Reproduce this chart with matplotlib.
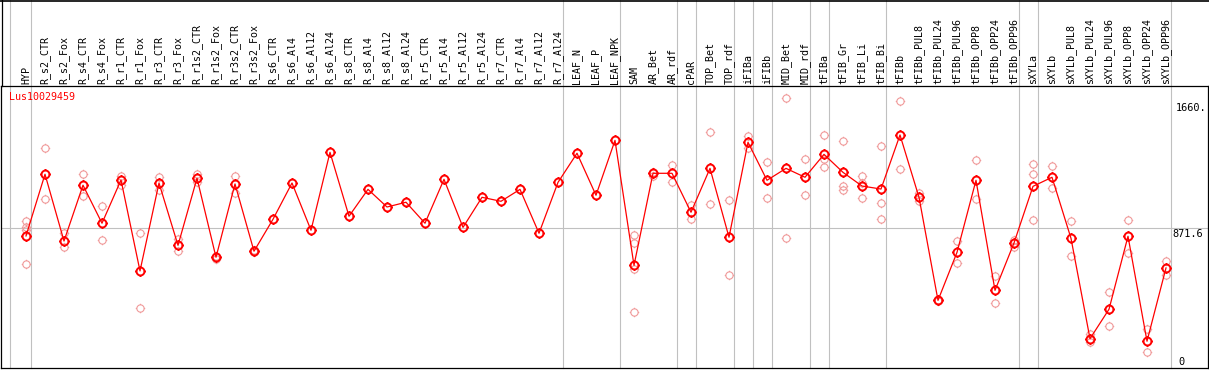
import matplotlib.pyplot as plt
import matplotlib.transforms as mtransforms
from matplotlib.path import Path
from matplotlib.lines import Line2D
import numpy as np

# sample names (x axis)
labels = ['HYP', 'R_s2_CTR', 'R_s2_Fox', 'R_s4_CTR', 'R_s4_Fox', 'R_r1_CTR', 'R_r1_Fox',
          'R_r3_CTR', 'R_r3_Fox', 'R_r1s2_CTR', 'R_r1s2_Fox', 'R_r3s2_CTR', 'R_r3s2_Fox',
          'R_s6_CTR', 'R_s6_Al4', 'R_s6_Al12', 'R_s6_Al24', 'R_s8_CTR', 'R_s8_Al4',
          'R_s8_Al12', 'R_s8_Al24', 'R_r5_CTR', 'R_r5_Al4', 'R_r5_Al12', 'R_r5_Al24',
          'R_r7_CTR', 'R_r7_Al4', 'R_r7_Al12', 'R_r7_Al24', 'LEAF_N', 'LEAF_P', 'LEAF_NPK',
          'SAM', 'AR_Bet', 'AR_rdf', 'cPAR', 'TOP_Bet', 'TOP_rdf', 'iFIBa', 'iFIBb',
          'MID_Bet', 'MID_rdf', 'tFIBa', 'tFIB_Gr', 'tFIB_Li', 'tFIB_Bi', 'tFIBb',
          'tFIBb_PUL8', 'tFIBb_PUL24', 'tFIBb_PUL96', 'tFIBb_OPP8', 'tFIBb_OPP24',
          'tFIBb_OPP96', 'sXYLa', 'sXYLb', 'sXYLb_PUL8', 'sXYLb_PUL24', 'sXYLb_PUL96',
          'sXYLb_OPP8', 'sXYLb_OPP24', 'sXYLb_OPP96']

# mean expression per sample
means = [824, 1212, 792, 1143, 904, 1176, 604, 1157, 765, 1187, 690, 1151, 728,
         929, 1157, 860, 1350, 948, 1117, 1006, 1036, 904, 1180, 878, 1067,
         1042, 1117, 841, 1161, 1344, 1080, 1425,
         639, 1218, 1218, 973, 1249, 816, 1413, 1174, 1249, 1193,
         1337, 1224, 1138, 1119, 1459, 1067, 419, 721, 1174, 482, 780,
         1136, 1193, 809, 178, 363, 822, 162, 623]

# replicate values per sample
reps = [[918, 880, 861, 648], [1375, 1054], [843, 753], [1212, 1073], [1010, 799],
        [1201, 1143], [841, 369], [1193, 1113], [807, 731], [1215, 1165], [698, 681],
        [1201, 1092], [737, 720],
        [], [], [], [], [], [], [], [], [], [], [], [], [], [], [], [], [], [], [],
        [830, 778, 614, 344], [1228, 1201], [1268, 1161], [1021, 929], [1476, 1023],
        [1048, 577], [1453, 1375], [1287, 1061], [1690, 809], [1306, 1080],
        [1457, 1306, 1256], [1419, 1138, 1113], [1201, 1157, 1061], [1388, 1029, 929],
        [1673, 1243], [1092, 1046], [424, 415], [792, 652], [1300, 1054], [570, 401],
        [799, 756],
        [1275, 1212, 922], [1262, 1124], [916, 698], [209, 155], [470, 256],
        [922, 715], [237, 94], [665, 580]]

# last sample of each group (separator lines)
group_ends = [0, 28, 31, 34, 35, 37, 38, 39, 41, 42, 45, 52, 53, 60]

gene = 'Lus10029459'
ymax_label = 1660
ymid_label = 871.6

W, H = 1209, 370
red = '#ff0000'
pink = '#f09a9a'
grey = '#c0c0c0'

# circle with four small ticks, like the original markers
t = np.linspace(0, 2 * np.pi, 33)
verts = list(zip(np.cos(t), np.sin(t)))
codes = [Path.MOVETO] + [Path.LINETO] * 32
for dx, dy in [(0, 1), (0, -1), (1, 0), (-1, 0)]:
    verts += [(dx, dy), (1.3 * dx, 1.3 * dy)]
    codes += [Path.MOVETO, Path.LINETO]
marker_path = Path(verts, codes)

fig = plt.figure(figsize=(W / 100, H / 100), dpi=100)
fig.patch.set_facecolor('white')

# plot area in pixels: x 1..1208, y 86..368
ax = fig.add_axes([1 / W, (H - 368) / H, 1207 / W, 282 / H])
k = ymax_label / (367 - 103)
ax.set_xlim((1 - 26) / 19, (1208 - 26) / 19)
ax.set_ylim((367 - 368) * k, (367 - 86) * k)
ax.set_xticks([])
ax.set_yticks([])
for s in ax.spines.values():
    s.set_linewidth(0.9)
    s.set_color('black')

x = np.arange(len(labels))

# separators
top_frac = 368 / 282
ax.axvline(-0.84, 0, top_frac, color=grey, lw=0.8, clip_on=False, zorder=0)
for g in group_ends:
    ax.axvline(g + 0.24, 0, top_frac, color=grey, lw=0.8, clip_on=False, zorder=0)
ax.axhline(ymid_label, color=grey, lw=0.8, zorder=0)

# replicates
for i, r in enumerate(reps):
    if r:
        ax.plot([i] * len(r), r, linestyle='none', marker=marker_path, ms=6.8,
                mfc='none', mec=pink, mew=0.8, zorder=2)

# mean line
ax.plot(x, means, color=red, lw=0.9, zorder=3)
ax.plot(x, means, linestyle='none', marker=marker_path, ms=7.4, mfc='none',
        mec=red, mew=1.4, zorder=4)

# sample labels
trans = mtransforms.blended_transform_factory(ax.transData, ax.transAxes)
for i, name in enumerate(labels):
    ax.text(i, (368 - 84) / 282, name, rotation=90, ha='center', va='bottom',
            family='DejaVu Sans Mono', fontsize=7.2, transform=trans, clip_on=False)

# right side scale labels
ax.text((1176 - 26) / 19, ymax_label, '%d.' % ymax_label, ha='left', va='top',
        family='DejaVu Sans Mono', fontsize=7.4)
ax.text((1172 - 26) / 19, ymid_label - 0.5 * k, '%.1f' % ymid_label, ha='left', va='top',
        family='DejaVu Sans Mono', fontsize=7.4)
ax.text((1178 - 26) / 19, 0.3 * k, '0', ha='left', va='bottom',
        family='DejaVu Sans Mono', fontsize=7.4)

# gene name
fig.text(9 / W, 1 - 97 / H, gene, color=red, ha='left', va='center',
         family='DejaVu Sans Mono', fontsize=7.2)

# outer frame of label area
fig.add_artist(Line2D([0, 1], [1 - 0.5 / H, 1 - 0.5 / H], color='black', lw=1.2,
                      transform=fig.transFigure))
fig.add_artist(Line2D([1.5 / W, 1.5 / W], [1 - 86 / H, 1], color='black', lw=0.9,
                      transform=fig.transFigure))

fig.savefig('out.png', dpi=100)
